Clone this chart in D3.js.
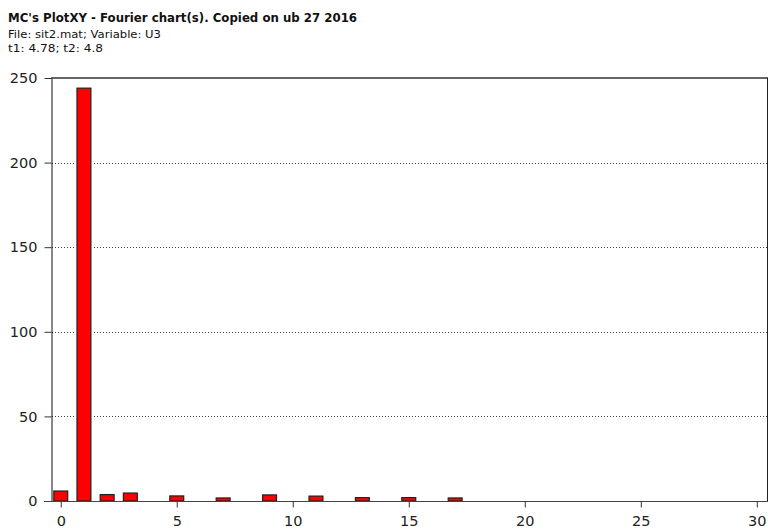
<!DOCTYPE html>
<html>
<head>
<meta charset="utf-8">
<script src="https://cdn.jsdelivr.net/npm/d3@7"></script>
<style>
  html, body { margin: 0; padding: 0; background: #fff; }
  svg { display: block; }
</style>
</head>
<body>
<svg id="chart" width="768" height="528"></svg>
<script>
// Fourier spectrum: harmonic order and amplitude
const harmonics  = [0, 1, 2, 3, 5, 7, 9, 11, 13, 15, 17];
const amplitudes = [5.9, 244, 3.8, 4.7, 3.0, 1.8, 3.6, 2.9, 2.0, 2.0, 1.8];
const xTicks = [0, 5, 10, 15, 20, 25, 30];
const yTicks = [0, 50, 100, 150, 200, 250];
const gridValues = [50, 100, 150, 200];
const headerLines = [
  "MC's PlotXY - Fourier chart(s). Copied on ub 27 2016",
  "File: sit2.mat; Variable: U3",
  "t1: 4.78; t2: 4.8"
];

const svg = d3.select("#chart");
const plotLeft = 51, plotRight = 767, plotTop = 78, plotBottom = 501;

const x = d3.scaleLinear().domain([-0.42, 30.44]).range([plotLeft, plotRight]);
const y = d3.scaleLinear().domain([0, 250]).range([plotBottom, plotTop]);
const barW = x(0.6) - x(0);

// header text: bold title line, then file and time-window lines
const headerStyle = [
  { y: 21.5, size: 12, weight: "bold", width: 349 },
  { y: 37.5, size: 11, weight: "normal", width: 153 },
  { y: 51.5, size: 11, weight: "normal", width: 95 }
];
svg.append("g")
  .attr("fill", "#111")
  .selectAll("text")
  .data(headerLines)
  .join("text")
  .attr("x", 8)
  .attr("y", (d, i) => headerStyle[i].y)
  .attr("font-family", "'DejaVu Sans', sans-serif")
  .attr("font-weight", (d, i) => headerStyle[i].weight)
  .attr("font-size", (d, i) => headerStyle[i].size)
  .attr("textLength", (d, i) => headerStyle[i].width)
  .attr("lengthAdjust", "spacingAndGlyphs")
  .text(d => d);

// dotted horizontal grid
svg.append("g")
  .selectAll("line")
  .data(gridValues)
  .join("line")
  .attr("x1", plotLeft + 1).attr("x2", plotRight)
  .attr("y1", d => Math.round(y(d)) + 0.5)
  .attr("y2", d => Math.round(y(d)) + 0.5)
  .attr("stroke", "#444")
  .attr("stroke-width", 1)
  .attr("stroke-dasharray", "1,2");

// bars with a white halo that clears the grid around them
const bars = svg.append("g");
bars.selectAll("rect.halo")
  .data(harmonics)
  .join("rect")
  .attr("class", "halo")
  .attr("x", d => x(d) - barW / 2 - 3)
  .attr("width", barW + 6)
  .attr("y", (d, i) => y(amplitudes[i]) - 3)
  .attr("height", (d, i) => plotBottom - y(amplitudes[i]) + 3)
  .attr("fill", "#fff");
bars.selectAll("rect.bar")
  .data(harmonics)
  .join("rect")
  .attr("class", "bar")
  .attr("x", d => x(d) - barW / 2)
  .attr("width", barW)
  .attr("y", (d, i) => y(amplitudes[i]))
  .attr("height", (d, i) => plotBottom - y(amplitudes[i]))
  .attr("fill", "#ff0000")
  .attr("stroke", "#222")
  .attr("stroke-width", 1.2);

// frame: top (grey, heavier) and right borders
svg.append("line")
  .attr("x1", plotLeft).attr("x2", plotRight + 1)
  .attr("y1", plotTop).attr("y2", plotTop)
  .attr("stroke", "#666").attr("stroke-width", 2);
svg.append("line")
  .attr("x1", plotRight + 0.5).attr("x2", plotRight + 0.5)
  .attr("y1", plotTop).attr("y2", plotBottom)
  .attr("stroke", "#222").attr("stroke-width", 1);

// y axis
const yAxis = svg.append("g")
  .attr("transform", `translate(${plotLeft + 0.5},0)`)
  .call(d3.axisLeft(y).tickValues(yTicks).tickSize(7).tickPadding(7).tickSizeOuter(0));
yAxis.select(".domain").attr("stroke", "#111");
yAxis.selectAll(".tick line").attr("stroke", "#333");
yAxis.selectAll(".tick text")
  .attr("font-family", "'DejaVu Sans', sans-serif")
  .attr("font-size", 14.5)
  .attr("fill", "#222");

// x axis
const xAxis = svg.append("g")
  .attr("transform", `translate(0,${plotBottom + 0.5})`)
  .call(d3.axisBottom(x).tickValues(xTicks).tickSize(6).tickPadding(8).tickSizeOuter(0));
xAxis.select(".domain").attr("stroke", "#444").attr("d", `M${plotLeft - 7},0H${plotRight + 1}`);
xAxis.selectAll(".tick line").attr("stroke", "#333");
xAxis.selectAll(".tick text")
  .attr("font-family", "'DejaVu Sans', sans-serif")
  .attr("font-size", 14.5)
  .attr("fill", "#222");
</script>
</body>
</html>
